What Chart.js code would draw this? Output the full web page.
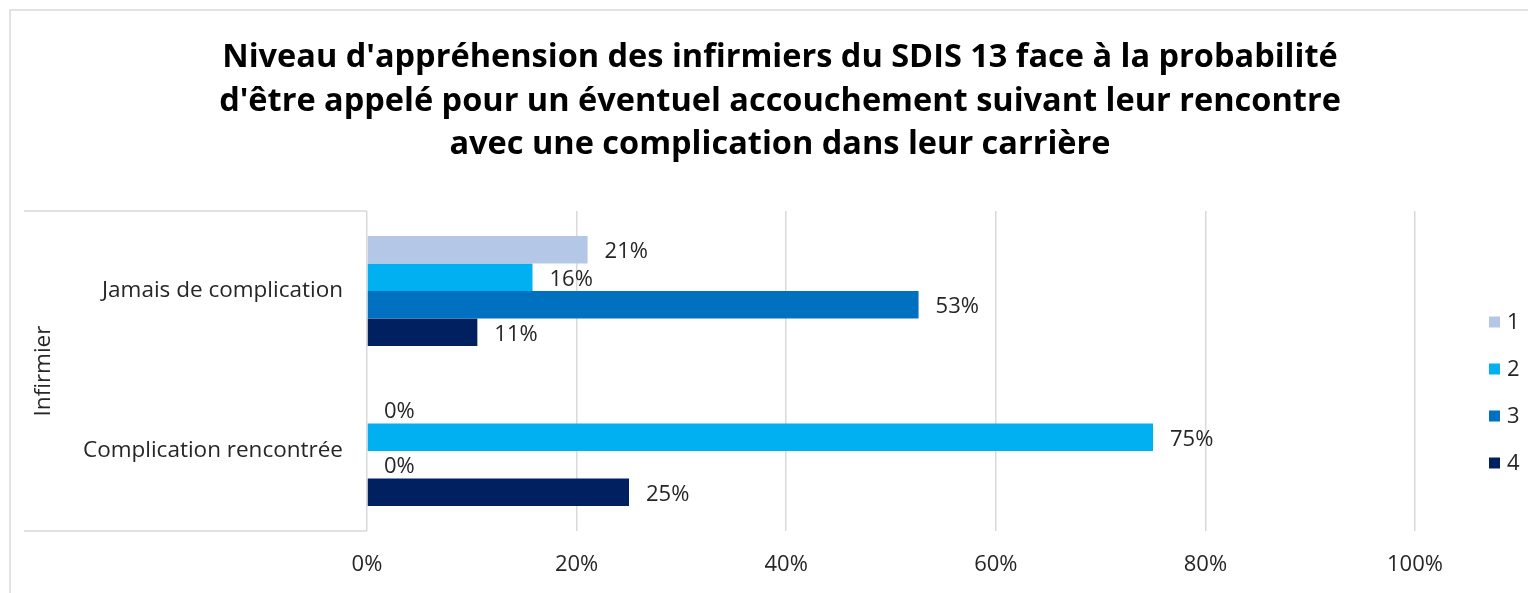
<!DOCTYPE html>
<html lang="fr">
<head>
<meta charset="utf-8">
<title>Niveau d'appréhension des infirmiers</title>
<script src="https://cdn.jsdelivr.net/npm/chart.js@4.4.1/dist/chart.umd.min.js"></script>
<style>
  html, body { margin: 0; padding: 0; background: #fff; overflow: hidden; }
  canvas { display: block; }
</style>
</head>
<body>
<canvas id="myChart" width="1528" height="593"></canvas>
<script>
const categories = ['Jamais de complication', 'Complication rencontrée'];
const levels = ['1', '2', '3', '4'];
// share of nurses (%) per apprehension level, one entry per category
const level1 = [21.05, 0];
const level2 = [15.79, 75];
const level3 = [52.63, 0];
const level4 = [10.53, 25];
const xTicks = [0, 20, 40, 60, 80, 100];
const titleLines = [
    "Niveau d'appréhension des infirmiers du SDIS 13 face à la probabilité",
    "d'être appelé pour un éventuel accouchement suivant leur rencontre",
    "avec une complication dans leur carrière"
];
const groupLabel = 'Infirmier';

const levelColors = ['#B4C7E7', '#00B0F0', '#0070C0', '#002060'];
const textColor = '#262626';
const lineColor = '#d9d9d9';
const fontFamily = '"Open Sans"';

Chart.defaults.font.family = fontFamily;
Chart.defaults.color = textColor;

// frame, title, category box and legend drawn around the plot
const decor = {
    id: 'decor',
    beforeDraw(chart) {
        const { ctx, chartArea: a } = chart;
        ctx.save();
        ctx.fillStyle = '#fff';
        ctx.fillRect(0, 0, chart.width, chart.height);

        ctx.strokeStyle = lineColor;
        ctx.lineWidth = 1.5;
        ctx.beginPath();
        ctx.moveTo(10, chart.height + 5);
        ctx.lineTo(10, 10);
        ctx.lineTo(chart.width + 5, 10);
        ctx.stroke();

        ctx.beginPath();
        ctx.moveTo(a.left, a.top);
        ctx.lineTo(24, a.top);
        ctx.moveTo(24, a.bottom);
        ctx.lineTo(a.left, a.bottom);
        ctx.stroke();

        ctx.fillStyle = '#000';
        ctx.font = 'bold 32.5px ' + fontFamily;
        ctx.textAlign = 'center';
        ctx.textBaseline = 'alphabetic';
        titleLines.forEach((line, i) => {
            ctx.fillText(line, 780, 67 + i * 43.5);
        });
        ctx.restore();
    },
    afterDraw(chart) {
        const { ctx } = chart;
        ctx.save();
        ctx.font = '22px ' + fontFamily;
        ctx.textAlign = 'left';
        ctx.textBaseline = 'middle';
        chart.data.datasets.forEach((ds, i) => {
            const y = 322 + i * 47;
            ctx.fillStyle = ds.backgroundColor;
            ctx.fillRect(1489, y - 5.5, 11, 11);
            ctx.fillStyle = textColor;
            ctx.fillText(ds.label, 1507, y + 1);
        });
        ctx.restore();
    }
};

// percentage labels just past the end of each bar
const barLabels = {
    id: 'barLabels',
    afterDatasetsDraw(chart) {
        const { ctx } = chart;
        ctx.save();
        ctx.font = '22px ' + fontFamily;
        ctx.fillStyle = textColor;
        ctx.textAlign = 'left';
        ctx.textBaseline = 'middle';
        chart.data.datasets.forEach((ds, i) => {
            chart.getDatasetMeta(i).data.forEach((bar, j) => {
                ctx.fillText(Math.round(ds.data[j]) + '%', bar.x + 17, bar.y + 2);
            });
        });
        ctx.restore();
    }
};

const ctx = document.getElementById('myChart').getContext('2d');

new Chart(ctx, {
    type: 'bar',
    data: {
        labels: categories,
        datasets: [level1, level2, level3, level4].map((values, i) => ({
            label: levels[i],
            data: values,
            backgroundColor: levelColors[i],
            borderWidth: 0,
            categoryPercentage: 0.6875,
            barPercentage: 1.0
        }))
    },
    options: {
        indexAxis: 'y',
        responsive: false,
        animation: false,
        devicePixelRatio: 1,
        layout: {
            padding: { top: 211, left: 10, right: 113, bottom: 0 }
        },
        scales: {
            x: {
                min: 0,
                max: 100,
                afterBuildTicks: (scale) => {
                    scale.ticks = xTicks.map(v => ({ value: v }));
                },
                afterFit: (scale) => {
                    scale.height = 62;
                },
                ticks: {
                    padding: 21,
                    font: { size: 22 },
                    color: textColor,
                    callback: (value) => value + '%'
                },
                grid: {
                    color: lineColor,
                    lineWidth: 1.5,
                    drawTicks: false
                },
                border: { display: false }
            },
            y: {
                afterFit: (scale) => {
                    scale.width = 357;
                },
                ticks: {
                    padding: 24,
                    font: { size: 22.5 },
                    color: textColor
                },
                grid: {
                    display: false,
                    drawTicks: false
                },
                border: { display: false },
                title: {
                    display: true,
                    text: groupLabel,
                    font: { size: 22.5 },
                    color: textColor,
                    padding: { top: 20, bottom: 0 }
                }
            }
        },
        plugins: {
            legend: { display: false },
            title: { display: false },
            tooltip: { enabled: false }
        }
    },
    plugins: [decor, barLabels]
});
</script>
</body>
</html>
